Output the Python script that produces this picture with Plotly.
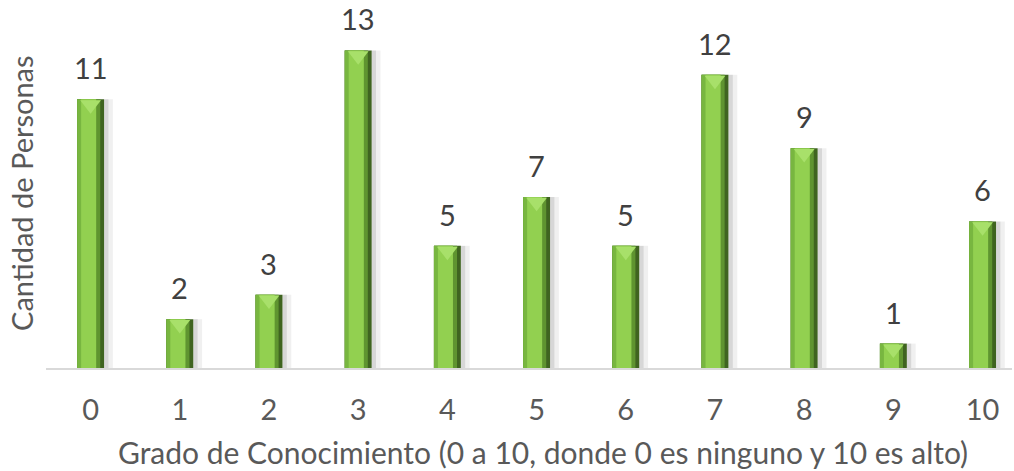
import plotly.graph_objects as go

categories = ["0", "1", "2", "3", "4", "5", "6", "7", "8", "9", "10"]
values = [11, 2, 3, 13, 5, 7, 5, 12, 9, 1, 6]
x_title = "Grado de Conocimiento (0 a 10, donde 0 es ninguno y 10 es alto)"
y_title = "Cantidad de Personas"

FONT = "Lato"
TXT = "#595959"
xs = list(range(len(categories)))

fig = go.Figure()

def bar(color, left, right, name):
    fig.add_trace(go.Bar(
        x=xs, y=values, width=right - left, offset=left,
        marker=dict(color=color, line=dict(width=0)),
        hoverinfo="skip", showlegend=False, name=name))

# soft shadow to the right
bar("rgba(0,0,0,0.06)", 0.15, 0.25, "shadow2")
bar("rgba(0,0,0,0.10)", 0.15, 0.20, "shadow1")
# dark edge
bar("#3f6420", -0.151, 0.151, "edge")
# right bevel
bar("#5f9430", -0.151, 0.108, "rbevel")
# left bevel
bar("#78b640", -0.151, 0.062, "lbevel")
# main face
bar("#92d050", -0.106, 0.062, "face")

# top chevron highlight
fig.add_trace(go.Scatter(
    x=xs, y=[v - 0.22 for v in values], mode="markers",
    marker=dict(symbol="triangle-down", size=18, color="#a8e06a",
                line=dict(width=0)),
    hoverinfo="skip", showlegend=False, cliponaxis=False))

annotations = []
for xi, v in zip(xs, values):
    annotations.append(dict(
        x=xi, y=v, xref="x", yref="y", text=str(v), showarrow=False,
        yanchor="bottom", yshift=12, font=dict(family=FONT, size=29, color="#404040")))

annotations.append(dict(
    x=0.5145, y=-0.2456, xref="paper", yref="paper", text=x_title,
    showarrow=False, xanchor="center", yanchor="middle",
    font=dict(family=FONT, size=30, color=TXT)))
annotations.append(dict(
    x=-0.0248, y=0.512, xref="paper", yref="paper", text=y_title,
    showarrow=False, xanchor="center", yanchor="middle", textangle=-90,
    font=dict(family=FONT, size=29, color=TXT)))

fig.update_layout(
    width=1014, height=471,
    margin=dict(l=46, r=2, t=26, b=103, autoexpand=False),
    paper_bgcolor="white", plot_bgcolor="white",
    barmode="overlay",
    annotations=annotations,
    xaxis=dict(
        range=[-0.5, 10.33], tickmode="array", tickvals=xs, ticktext=categories,
        showline=True, linecolor="#d9d9d9", linewidth=1.5, showgrid=False,
        zeroline=False, ticks="", ticklabelstandoff=15, automargin=False,
        tickfont=dict(family=FONT, size=29, color=TXT)),
    yaxis=dict(
        range=[0, 14], showticklabels=False, showgrid=False, zeroline=False,
        showline=False, ticks="", automargin=False),
)

fig.write_html("out.html", config={"displayModeBar": False},
               post_script="document.body.style.margin='0';")
